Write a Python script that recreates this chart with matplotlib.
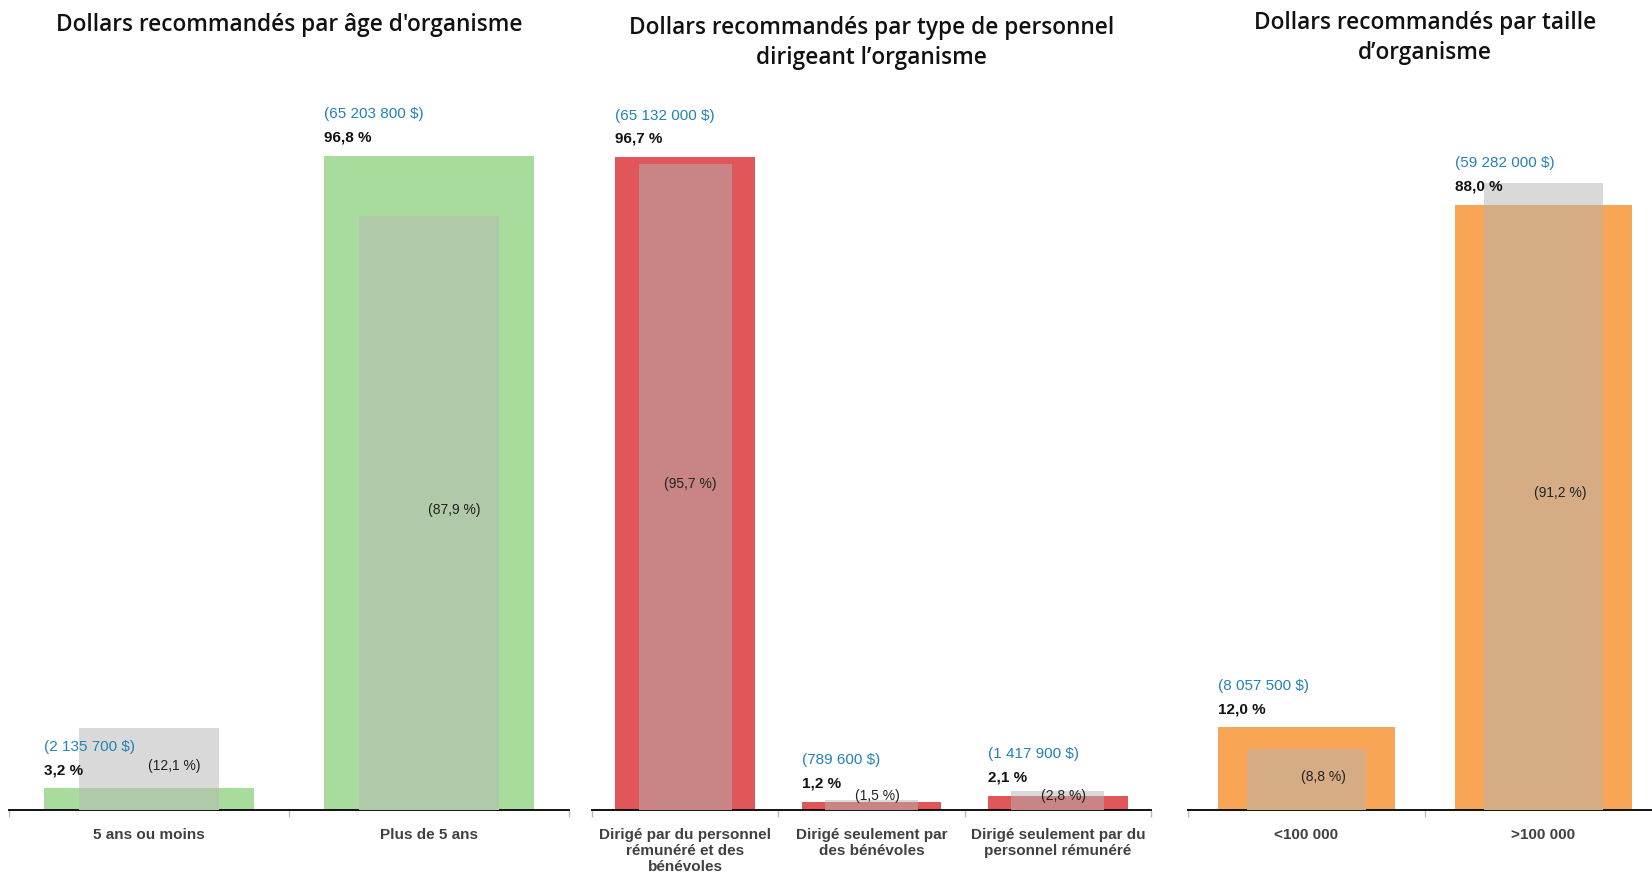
import numpy as np
import matplotlib.pyplot as plt

# --- data ---
age_labels = ['5 ans ou moins', 'Plus de 5 ans']
age_pct = [3.2, 96.8]
age_dollars = [2135700, 65203800]
age_ref = [12.1, 87.9]

staff_labels = ['Dirigé par du personnel\nrémunéré et des\nbénévoles',
                'Dirigé seulement par\ndes bénévoles',
                'Dirigé seulement par du\npersonnel rémunéré']
staff_pct = [96.7, 1.2, 2.1]
staff_dollars = [65132000, 789600, 1417900]
staff_ref = [95.7, 1.5, 2.8]

size_labels = ['<100 000', '>100 000']
size_pct = [12.0, 88.0]
size_dollars = [8057500, 59282000]
size_ref = [8.8, 91.2]

titles = ["Dollars recommandés par âge d'organisme",
          "Dollars recommandés par type de personnel\ndirigeant l’organisme",
          "Dollars recommandés par taille\nd’organisme"]

GRAY = '#D9D9D9'
BLUE = '#2381B5'


def fmt_pct(v):
    return f"{v:.1f} %".replace('.', ',')


def fmt_dollars(v):
    return f"({v:,} $)".replace(',', ' ')


def draw_panel(ax, labels, pct, dollars, ref, color, mix, ymax, dx):
    x = np.arange(len(labels))
    overlap = np.minimum(pct, ref)
    ax.bar(x, pct, width=0.75, color=color, zorder=1)
    ax.bar(x, ref, width=0.5, color=GRAY, zorder=2)
    ax.bar(x, overlap, width=0.5, color=mix, zorder=3)

    for xi, v, d, r in zip(x, pct, dollars, ref):
        left = xi - 0.375
        ax.annotate(fmt_dollars(d), xy=(left, v), xytext=(0, 30),
                    textcoords='offset points', ha='left', va='center',
                    color=BLUE, fontsize=11, zorder=5)
        ax.annotate(fmt_pct(v), xy=(left, v), xytext=(0, 13.2),
                    textcoords='offset points', ha='left', va='center',
                    color='#111111', fontsize=11, fontweight='bold', zorder=5)
        ax.annotate(f"({fmt_pct(r)})", xy=(xi, max(r / 2 + 0.45, 2.0)),
                    xytext=(dx, 0), textcoords='offset points',
                    ha='center', va='center', color='#222222',
                    fontsize=10, zorder=5)

    ax.set_xlim(-0.5, len(labels) - 0.5)
    ax.set_ylim(0, ymax)
    ax.set_xticks(x)
    ax.set_xticklabels(labels, fontsize=11, fontweight='bold',
                       color='#404040', linespacing=1.17)
    ax.set_xticks(np.arange(len(labels) + 1) - 0.5, minor=True)
    ax.tick_params(axis='x', which='major', length=0, pad=13)
    ax.tick_params(axis='x', which='minor', length=5, width=1,
                   color='#BBBBBB')
    ax.set_yticks([])
    for s in ['top', 'right', 'left']:
        ax.spines[s].set_visible(False)
    ax.spines['bottom'].set_linewidth(1.4)
    ax.spines['bottom'].set_color('#111111')
    ax.set_facecolor('none')


if __name__ == "__main__":
    plt.rcParams['font.family'] = ['Liberation Sans', 'DejaVu Sans']

    W, H = 1652, 872
    fig = plt.figure(figsize=(W / 100, H / 100), dpi=100)

    bottom = (H - 810) / H
    height = 700 / H
    ax1 = fig.add_axes([9 / W, bottom, 560 / W, height])
    ax2 = fig.add_axes([592 / W, bottom, 559 / W, height])
    ax3 = fig.add_axes([1188 / W, bottom, 474 / W, height])

    draw_panel(ax1, age_labels, age_pct, age_dollars, age_ref,
               '#A8DC9C', '#B0C9A8', 103.6, 18)
    draw_panel(ax2, staff_labels, staff_pct, staff_dollars, staff_ref,
               '#E15759', '#C98585', 103.7, 4)
    draw_panel(ax3, size_labels, size_pct, size_dollars, size_ref,
               '#F8A656', '#D6AC84', 101.8, 12)

    # titles centred over each panel
    title_y = [25, 43, 38]
    for ax, t, ty in zip([ax1, ax2, ax3], titles, title_y):
        pos = ax.get_position()
        fig.text(pos.x0 + pos.width / 2, 1 - ty / H, t, ha='center',
                 va='center', fontsize=16.3, fontweight='semibold',
                 family=['Open Sans', 'DejaVu Sans'], linespacing=1.35,
                 color='#111111')

    plt.savefig('out.png', dpi=100)
